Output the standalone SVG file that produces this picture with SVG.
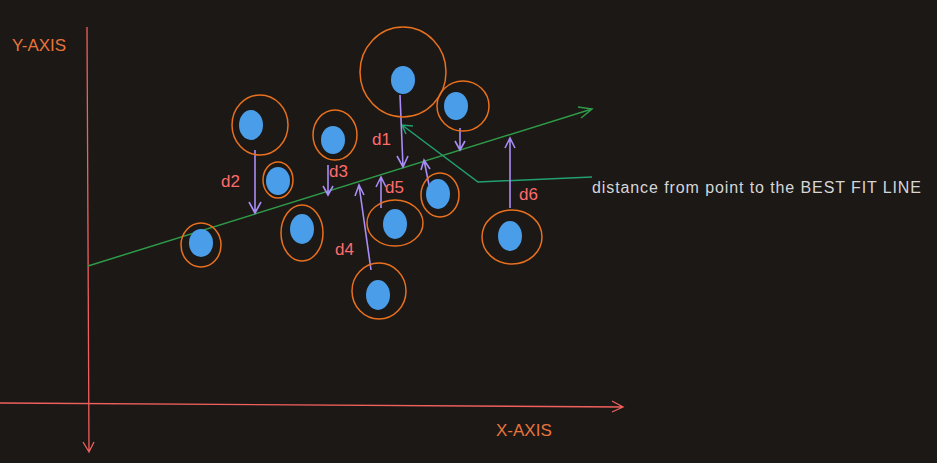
<svg xmlns="http://www.w3.org/2000/svg" width="937" height="463" viewBox="0 0 937 463">
<style>
.ax{stroke:#f0605c;stroke-width:1.3;fill:none}
.ring{stroke:#e8701e;stroke-width:1.5;fill:none}
.dot{fill:#4a9de8}
.d{stroke:#a98cf5;stroke-width:1.6;fill:none}
.g{stroke:#2f9a48;stroke-width:1.5;fill:none}
.lbl{font-family:"Liberation Sans",Arial,sans-serif;font-size:17px;fill:#ff6b6b}
.axl{font-family:"Liberation Sans",Arial,sans-serif;font-size:17px;fill:#e8733a}
</style>
<rect width="937" height="463" fill="#1b1816"/>
<g id="connectors">
<path class="ax" d="M87,27 L89,452 M83,442 L89,452 L94,442"/>
<path class="ax" d="M0,403 L623,407 M612,401 L623,407 L612,412"/>
<path class="g" d="M88,266 L592,109 M578,107 L592,109 L581,118"/>
<path d="M592,177 L478,182 L402,125 M413,126 L402,125 L406,134" stroke="#22a070" stroke-width="1.5" fill="none"/>
<path class="d" d="M400,95 L403,167 M397,156 L403,167 L408,156"/>
<path class="d" d="M255,150 L255,213 M249,202 L255,213 L261,202"/>
<path class="d" d="M328,165 L328,195 M323,186 L328,195 L333,186"/>
<path class="d" d="M371,270 L359,185 M355,196 L359,185 L364,195"/>
<path class="d" d="M381,208 L381,177 M376,187 L381,177 L386,187"/>
<path class="d" d="M429,185 L424,160 M421,170 L424,160 L430,169"/>
<path class="d" d="M510,208 L510,138 M505,148 L510,138 L515,148"/>
<path class="d" d="M460,128 L460,150 M455,141 L460,150 L465,141"/>
</g>
<g id="p1"><ellipse class="ring" cx="403" cy="72" rx="43" ry="45"/><ellipse class="dot" cx="403" cy="80" rx="12" ry="14"/></g>
<g id="p2"><ellipse class="ring" cx="463" cy="106" rx="26" ry="25"/><ellipse class="dot" cx="456" cy="106" rx="12" ry="14"/></g>
<g id="p3"><ellipse class="ring" cx="260" cy="125" rx="28" ry="30"/><ellipse class="dot" cx="251" cy="125" rx="12" ry="15"/></g>
<g id="p4"><ellipse class="ring" cx="335" cy="135" rx="22" ry="25"/><ellipse class="dot" cx="333" cy="140" rx="12" ry="14"/></g>
<g id="p5"><ellipse class="ring" cx="278" cy="180" rx="15" ry="18"/><ellipse class="dot" cx="278" cy="181" rx="12" ry="14"/></g>
<g id="p6"><ellipse class="ring" cx="201" cy="245" rx="20" ry="22"/><ellipse class="dot" cx="201" cy="243" rx="12" ry="14"/></g>
<g id="p7"><ellipse class="ring" cx="302" cy="233" rx="21" ry="28"/><ellipse class="dot" cx="302" cy="229" rx="12" ry="15"/></g>
<g id="p8"><ellipse class="ring" cx="395" cy="223" rx="28" ry="23"/><ellipse class="dot" cx="395" cy="224" rx="12" ry="15"/></g>
<g id="p9"><ellipse class="ring" cx="440" cy="195" rx="19" ry="22"/><ellipse class="dot" cx="438" cy="194" rx="12" ry="15"/></g>
<g id="p10"><ellipse class="ring" cx="512" cy="237" rx="30" ry="27"/><ellipse class="dot" cx="510" cy="236" rx="12" ry="15"/></g>
<g id="p11"><ellipse class="ring" cx="379" cy="291" rx="27" ry="28"/><ellipse class="dot" cx="378" cy="295" rx="12" ry="15"/></g>
<g id="labels">
<text class="axl" x="12" y="51">Y-AXIS</text>
<text class="axl" x="496" y="436">X-AXIS</text>
<text class="lbl" x="372" y="145">d1</text>
<text class="lbl" x="221" y="187">d2</text>
<text class="lbl" x="329" y="177">d3</text>
<text class="lbl" x="335" y="255">d4</text>
<text class="lbl" x="385" y="193">d5</text>
<text class="lbl" x="519" y="200">d6</text>
<text x="592" y="193" font-family="'Liberation Sans',Arial,sans-serif" font-size="16" textLength="329" fill="#d6d6d6">distance from point to the BEST FIT LINE</text>
</g>
</svg>
